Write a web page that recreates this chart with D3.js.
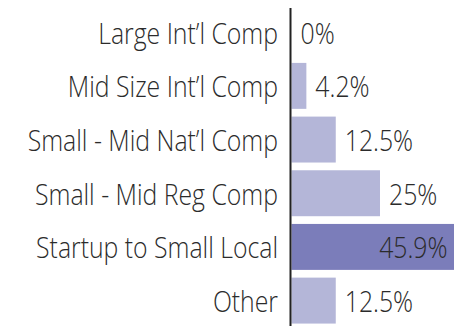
<!DOCTYPE html>
<html>
<head>
<meta charset="utf-8">
<script src="https://cdn.jsdelivr.net/npm/d3@7"></script>
<style>
  html, body { margin: 0; padding: 0; background: #fff; }
  svg { display: block; }
  text { font-family: "Open Sans", sans-serif; font-weight: 300; fill: #2b2b2b; }
</style>
</head>
<body>
<svg id="chart" width="461" height="326"></svg>
<script>
// Company size breakdown
const categories = [
  "Large Int\u2019l Comp",
  "Mid Size Int\u2019l Comp",
  "Small - Mid Nat\u2019l Comp",
  "Small - Mid Reg Comp",
  "Startup to Small Local",
  "Other"
];
const values = [0, 4.2, 12.5, 25, 45.9, 12.5];
const valueLabels = ["0%", "4.2%", "12.5%", "25%", "45.9%", "12.5%"];
const highlighted = ["Startup to Small Local"];

const width = 461, height = 326;
const axisX = 290.5;
const fontSize = 28.5;
const squeeze = 0.87;   // horizontal text compression (semi-condensed look)

const svg = d3.select("#chart");

const x = d3.scaleLinear()
  .domain([0, 45.9])
  .range([axisX + 1, 454]);

const y = d3.scaleBand()
  .domain(categories)
  .range([1.5, 331.3])
  .padding(0.144);

const rows = categories.map((c, i) => ({ cat: c, value: values[i], label: valueLabels[i] }));

// bars
svg.append("g")
  .selectAll("rect")
  .data(rows)
  .join("rect")
  .attr("x", x(0))
  .attr("y", d => y(d.cat))
  .attr("width", d => x(d.value) - x(0))
  .attr("height", y.bandwidth())
  .attr("fill", d => highlighted.includes(d.cat) ? "#7b7dba" : "#b4b6d8");

// category labels
const pad = 12.5;
const yAxis = svg.append("g")
  .attr("transform", `translate(${axisX},0)`)
  .call(d3.axisLeft(y).tickSize(0).tickPadding(pad));
yAxis.select(".domain").remove();
yAxis.selectAll("text")
  .attr("font-size", fontSize)
  .attr("font-family", null)
  .attr("fill", null)
  .attr("x", -pad / squeeze)
  .attr("dy", "0.4em")
  .attr("transform", `scale(${squeeze},1)`);

// vertical baseline
svg.append("line")
  .attr("x1", axisX).attr("x2", axisX)
  .attr("y1", 8).attr("y2", height)
  .attr("stroke", "#222")
  .attr("stroke-width", 2);

// value labels
svg.append("g")
  .selectAll("g")
  .data(rows)
  .join("g")
  .attr("transform", d => {
    const inside = highlighted.includes(d.cat);
    const tx = inside ? x(d.value) - 6.5 : x(d.value) + 9;
    return `translate(${tx},${y(d.cat) + y.bandwidth() / 2}) scale(${squeeze},1)`;
  })
  .append("text")
  .attr("font-size", fontSize)
  .attr("dy", "0.4em")
  .attr("text-anchor", d => highlighted.includes(d.cat) ? "end" : "start")
  .text(d => d.label);
</script>
</body>
</html>
